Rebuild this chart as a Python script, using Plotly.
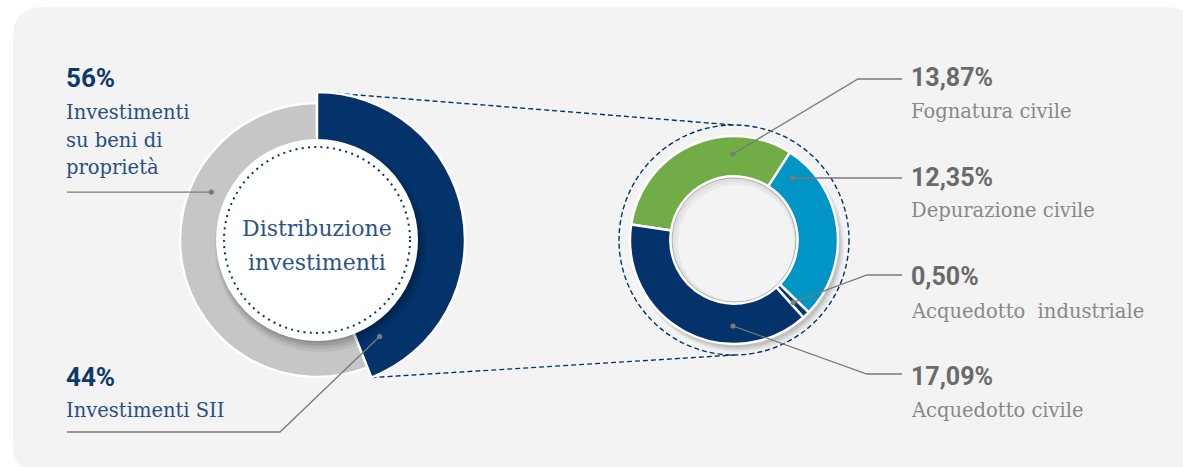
import math
import plotly.graph_objects as go

# ---- data ---------------------------------------------------------------
split_labels = ["Investimenti SII", "Investimenti su beni di proprietà"]
split_values = [44, 56]

sii_labels = ["Fognatura civile", "Depurazione civile",
              "Acquedotto\u00a0 industriale", "Acquedotto civile"]
sii_values = [13.87, 12.35, 0.50, 17.09]

center_title = ["Distribuzione", "investimenti"]

# ---- canvas helpers (pixel -> paper) -------------------------------------
W, H = 1183, 467


def px(x):
    return x / W


def py(y):
    return 1 - y / H


def domain(cx, cy, r):
    return dict(x=[px(cx - r), px(cx + r)], y=[py(cy + r), py(cy - r)])


def circle(cx, cy, r, layer="above", **kw):
    return dict(type="circle", xref="paper", yref="paper", layer=layer,
                x0=px(cx - r), x1=px(cx + r), y0=py(cy + r), y1=py(cy - r), **kw)


def polyline(points, layer="above", **kw):
    d = "M " + " L ".join(f"{px(x)},{py(y)}" for x, y in points)
    return dict(type="path", xref="paper", yref="paper", layer=layer, path=d, **kw)


def polar(cx, cy, r, deg):
    a = math.radians(deg)
    return cx + r * math.sin(a), cy - r * math.cos(a)


NAVY = "#03336a"
GRAY_SLICE = "#c6c6c6"
SII_COLORS = ["#72ac46", "#0095c5", "#06366c", "#03336a"]
PANEL = "#f3f3f3"
LEADER = "#7a7a7a"
CLEAR = "rgba(0,0,0,0)"

# left donut geometry
LCX, LCY = 317, 240
R_GRAY, R_BLUE, R_CORE = 137, 148, 101
# right donut geometry
RCX, RCY = 734, 240
R_OUT, R_IN = 103, 63
R_RING = 115

rot = -81.4  # start angle of the first slice (clockwise from 12 o'clock)

fig = go.Figure()

# gray ring (owned properties)
fig.add_trace(go.Pie(
    values=split_values, labels=split_labels, sort=False, direction="clockwise",
    rotation=0, hole=80 / R_GRAY, domain=domain(LCX, LCY, R_GRAY),
    marker=dict(colors=[CLEAR, GRAY_SLICE], line=dict(color="white", width=[0, 2.5])),
    textinfo="none", hoverinfo="label+percent", showlegend=False))

# emphasised blue slice (SII)
fig.add_trace(go.Pie(
    values=split_values, labels=split_labels, sort=False, direction="clockwise",
    rotation=0, hole=80 / R_BLUE, domain=domain(LCX, LCY, R_BLUE),
    marker=dict(colors=[NAVY, CLEAR], line=dict(color="white", width=[2.5, 0])),
    textinfo="none", hoverinfo="label+percent", showlegend=False))

# SII breakdown
fig.add_trace(go.Pie(
    values=sii_values, labels=sii_labels, sort=False, direction="clockwise",
    rotation=rot, hole=R_IN / R_OUT, domain=domain(RCX, RCY, R_OUT + 1),
    marker=dict(colors=SII_COLORS, line=dict(color="white", width=2.5)),
    textinfo="none", hoverinfo="label+value", showlegend=False))

shapes = []

# rounded panel
x0, y0, x1, y1, rr = 13, 7, 1195, 474, 30
pts = (f"M {px(x0 + rr)},{py(y0)} L {px(x1 - rr)},{py(y0)} "
       f"Q {px(x1)},{py(y0)} {px(x1)},{py(y0 + rr)} L {px(x1)},{py(y1 - rr)} "
       f"Q {px(x1)},{py(y1)} {px(x1 - rr)},{py(y1)} L {px(x0 + rr)},{py(y1)} "
       f"Q {px(x0)},{py(y1)} {px(x0)},{py(y1 - rr)} L {px(x0)},{py(y0 + rr)} "
       f"Q {px(x0)},{py(y0)} {px(x0 + rr)},{py(y0)} Z")
shapes.append(dict(type="path", xref="paper", yref="paper", layer="below",
                   path=pts, fillcolor=PANEL, line=dict(width=0)))

# dashed connectors from the SII slice to the breakdown ring
blue_end = split_values[0] / sum(split_values) * 360
top_a = polar(LCX, LCY, R_BLUE, 1.5)
bot_a = polar(LCX, LCY, R_BLUE, blue_end)
dash = dict(color=NAVY, width=1.4, dash="5px,3px")
shapes.append(polyline([top_a, (RCX, RCY - R_RING)], layer="below", line=dash))
shapes.append(polyline([bot_a, (RCX, RCY + R_RING)], layer="below", line=dash))

# drop shadow of the breakdown ring
for off, rad, op in [(6, 106, 0.05), (5, 105, 0.07), (4, 104, 0.09), (2, 103, 0.10)]:
    shapes.append(circle(RCX + off * 0.7, RCY + off, rad, layer="below",
                         fillcolor=f"rgba(0,0,0,{op})", line=dict(width=0)))
shapes.append(circle(RCX, RCY, R_RING, layer="below", fillcolor=CLEAR, line=dash))

# soft inner shadow inside the hole
shapes.append(circle(RCX, RCY, R_IN - 1.5, fillcolor="#e0e0e0", line=dict(width=0)))
shapes.append(circle(RCX + 1.0, RCY + 1.4, R_IN - 3.2, fillcolor="#e9e9e9", line=dict(width=0)))
shapes.append(circle(RCX + 2.0, RCY + 2.8, R_IN - 5.0, fillcolor=PANEL, line=dict(width=0)))

# white core with shadow and dotted border
for off, rad, op in [(6, 106, 0.05), (5, 104, 0.07), (4, 102, 0.09), (2, 101, 0.10)]:
    shapes.append(circle(LCX + off * 0.6, LCY + off, rad,
                         fillcolor=f"rgba(0,0,0,{op})", line=dict(width=0)))
shapes.append(circle(LCX, LCY, R_CORE, fillcolor="white", line=dict(width=0)))
shapes.append(circle(LCX, LCY, 93, fillcolor=CLEAR,
                     line=dict(color=NAVY, width=2, dash="2px,4.3px")))

# leader lines with end dots
lead = dict(color=LEADER, width=1.3)
dots = []
# left donut
d_gray = polar(LCX, LCY, 116, -65.6)
shapes.append(polyline([(67, d_gray[1]), d_gray], line=lead))
dots.append(d_gray)
d_blue = polar(LCX, LCY, 115, 147)
shapes.append(polyline([(67, 432), (280, 432), d_blue], line=lead))
dots.append(d_blue)
# right donut
dot_angles = [-0.7, 43, 136.5, 180.7]
elbows = [[(858, 79), (902, 79)], [(902, 178)], [(867, 275), (902, 275)],
          [(867, 374), (902, 374)]]
for ang, tail in zip(dot_angles, elbows):
    d = polar(RCX, RCY, 86, ang)
    if len(tail) == 1:
        d = (d[0], tail[0][1])
    shapes.append(polyline([d] + tail, line=lead))
    dots.append(d)
for d in dots:
    shapes.append(circle(d[0], d[1], 2.6, fillcolor=LEADER, line=dict(width=0)))

# ---- text ---------------------------------------------------------------
ann = []
PAD = 3  # annotation inner offset


def text(x, y, s, size, color, family, anchor="left", weight="normal"):
    xx = x - PAD if anchor == "left" else x
    ann.append(dict(xref="paper", yref="paper", x=px(xx), y=py(y), text=s,
                    showarrow=False, xanchor=anchor, yanchor="middle",
                    font=dict(size=size, color=color, family=family, weight=weight)))


SERIF = "DejaVu Serif"
BOLD = "Roboto"

# left side
text(67, 78, f"{split_values[1]}%", 26, "#0c3a6f", BOLD, weight="bold")
for yb, line in zip([112, 140, 167], ["Investimenti", "su beni di", "proprietà"]):
    text(67, yb, line, 19.5, "#284f82", SERIF)
text(67, 377, f"{split_values[0]}%", 26, "#0c3a6f", BOLD, weight="bold")
text(67, 410, split_labels[0], 19.5, "#284f82", SERIF)

# center title
text(LCX, 229, center_title[0], 22, "#2c5387", SERIF, anchor="center")
text(LCX, 262, center_title[1], 22, "#2c5387", SERIF, anchor="center")

# right side
pct_y = [77, 177, 276, 376]
name_y = [111, 210, 311, 410]
for v, name, yp, yn in zip(sii_values, sii_labels, pct_y, name_y):
    text(912, yp, f"{v:.2f}".replace(".", ",") + "%", 25, "#6a6a6a", BOLD, weight="bold")
    text(912, yn, name, 19.5, "#888888", SERIF)

fig.update_layout(
    width=W, height=H, autosize=False,
    margin=dict(l=0, r=0, t=0, b=0),
    paper_bgcolor="white", plot_bgcolor="white",
    shapes=shapes, annotations=ann,
    xaxis=dict(visible=False), yaxis=dict(visible=False),
)

fig.write_html("out.html")
